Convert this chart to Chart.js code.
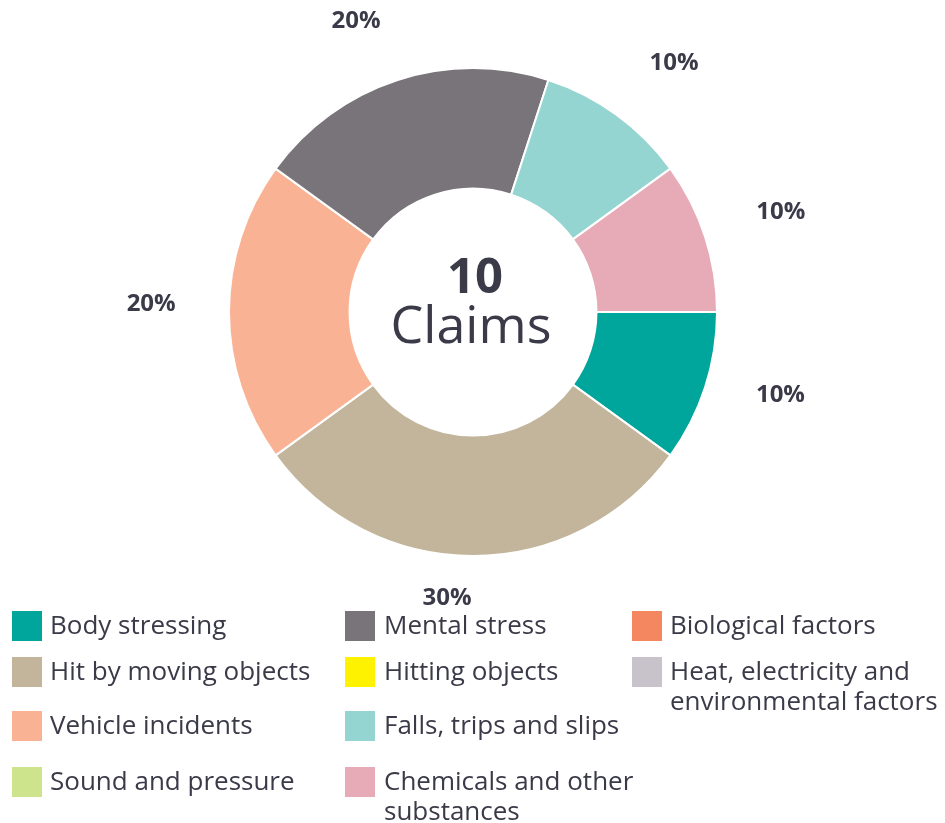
<!DOCTYPE html>
<html>
<head>
<meta charset="utf-8">
<script src="https://cdn.jsdelivr.net/npm/chart.js@4"></script>
<style>
  body { margin: 0; background: #fff; }
  #wrap { position: relative; width: 945px; height: 823px; }
  #legend { position: absolute; left: 0; top: 0; width: 945px; height: 823px; font-family: "Open Sans", sans-serif; font-size: 26px; color: #3a3a48; }
  .box { position: absolute; width: 30px; height: 30px; }
  .txt { position: absolute; line-height: 30px; white-space: nowrap; }
</style>
</head>
<body>
<div id="wrap">
  <canvas id="chart" width="945" height="823"></canvas>
  <div id="legend"></div>
</div>
<script>
// doughnut slices, clockwise from 3 o'clock
const categories = ["Body stressing", "Hit by moving objects", "Vehicle incidents", "Mental stress", "Falls, trips and slips", "Chemicals and other substances"];
const claims = [1, 3, 2, 2, 1, 1];
const sliceColors = ["#00a59b", "#c2b59b", "#f9b294", "#79737a", "#95d5d1", "#e6abb7"];
const totalLabel = "10";
const unitLabel = "Claims";

// legend entries (including categories with no claims)
const legendNames = ["Body stressing", "Hit by moving objects", "Vehicle incidents", "Sound and pressure",
  "Mental stress", "Hitting objects", "Falls, trips and slips", "Chemicals and other<br>substances",
  "Biological factors", "Heat, electricity and<br>environmental factors"];
const legendColors = ["#00a59b", "#c2b59b", "#f9b294", "#cde38c",
  "#79737a", "#fff200", "#95d5d1", "#e6abb7",
  "#f4875f", "#c8c2ca"];

// legend layout: box left, text left, box top
const legendCols = [[12, 50], [345, 384], [632, 670]];
const legendRows = [611, 657, 711, 767];
const legendCell = [[0, 0], [0, 1], [0, 2], [0, 3], [1, 0], [1, 1], [1, 2], [1, 3], [2, 0], [2, 1]];

const legendEl = document.getElementById("legend");
legendNames.forEach((n, i) => {
  const [c, r] = legendCell[i];
  const top = legendRows[r];
  const b = document.createElement("div");
  b.className = "box";
  b.style.left = legendCols[c][0] + "px";
  b.style.top = top + "px";
  b.style.background = legendColors[i];
  const t = document.createElement("div");
  t.className = "txt";
  t.style.left = legendCols[c][1] + "px";
  t.style.top = (top - 2) + "px";
  t.innerHTML = n;
  legendEl.appendChild(b);
  legendEl.appendChild(t);
});

const centerText = {
  id: "centerText",
  afterDraw(chart) {
    const ctx = chart.ctx;
    const a = chart.chartArea;
    const cx = (a.left + a.right) / 2, cy = (a.top + a.bottom) / 2;
    ctx.save();
    ctx.fillStyle = "#3a3a48";
    ctx.textAlign = "center";
    ctx.textBaseline = "alphabetic";
    ctx.font = "bold 49px 'Open Sans', sans-serif";
    ctx.fillText(totalLabel, cx + 2, cy - 19);
    ctx.font = "52px 'Open Sans', sans-serif";
    ctx.fillText(unitLabel, cx - 2, cy + 31);
    ctx.restore();
  }
};

// percentage labels outside the ring: radius and angle nudge (degrees) per slice
const labelRadius = [318, 286, 322, 315, 321, 324];
const labelNudge = [-3.2, 5.2, 1.8, -3.8, 2.8, -0.2];
const outerLabels = {
  id: "outerLabels",
  afterDraw(chart) {
    const ctx = chart.ctx;
    const meta = chart.getDatasetMeta(0);
    const total = claims.reduce((s, v) => s + v, 0);
    const size = 24;
    ctx.save();
    ctx.fillStyle = "#3a3a48";
    ctx.font = "bold " + size + "px 'Open Sans', sans-serif";
    ctx.textAlign = "center";
    ctx.textBaseline = "alphabetic";
    meta.data.forEach((arc, i) => {
      const mid = (arc.startAngle + arc.endAngle) / 2 + labelNudge[i] * Math.PI / 180;
      const r = labelRadius[i];
      const x = arc.x + Math.cos(mid) * r;
      const y = arc.y + Math.sin(mid) * r;
      ctx.fillText(Math.round(claims[i] / total * 100) + "%", x, y + size * 0.36);
    });
    ctx.restore();
  }
};

new Chart(document.getElementById("chart"), {
  type: "doughnut",
  data: {
    labels: categories,
    datasets: [{ data: claims, backgroundColor: sliceColors, borderColor: "#fff", borderWidth: 2 }]
  },
  options: {
    responsive: false,
    animation: false,
    rotation: 90,
    cutout: "50.6%",
    layout: { padding: { left: 228, right: 227, top: 67, bottom: 266 } },
    plugins: { legend: { display: false }, tooltip: { enabled: false } }
  },
  plugins: [centerText, outerLabels]
});
</script>
</body>
</html>
